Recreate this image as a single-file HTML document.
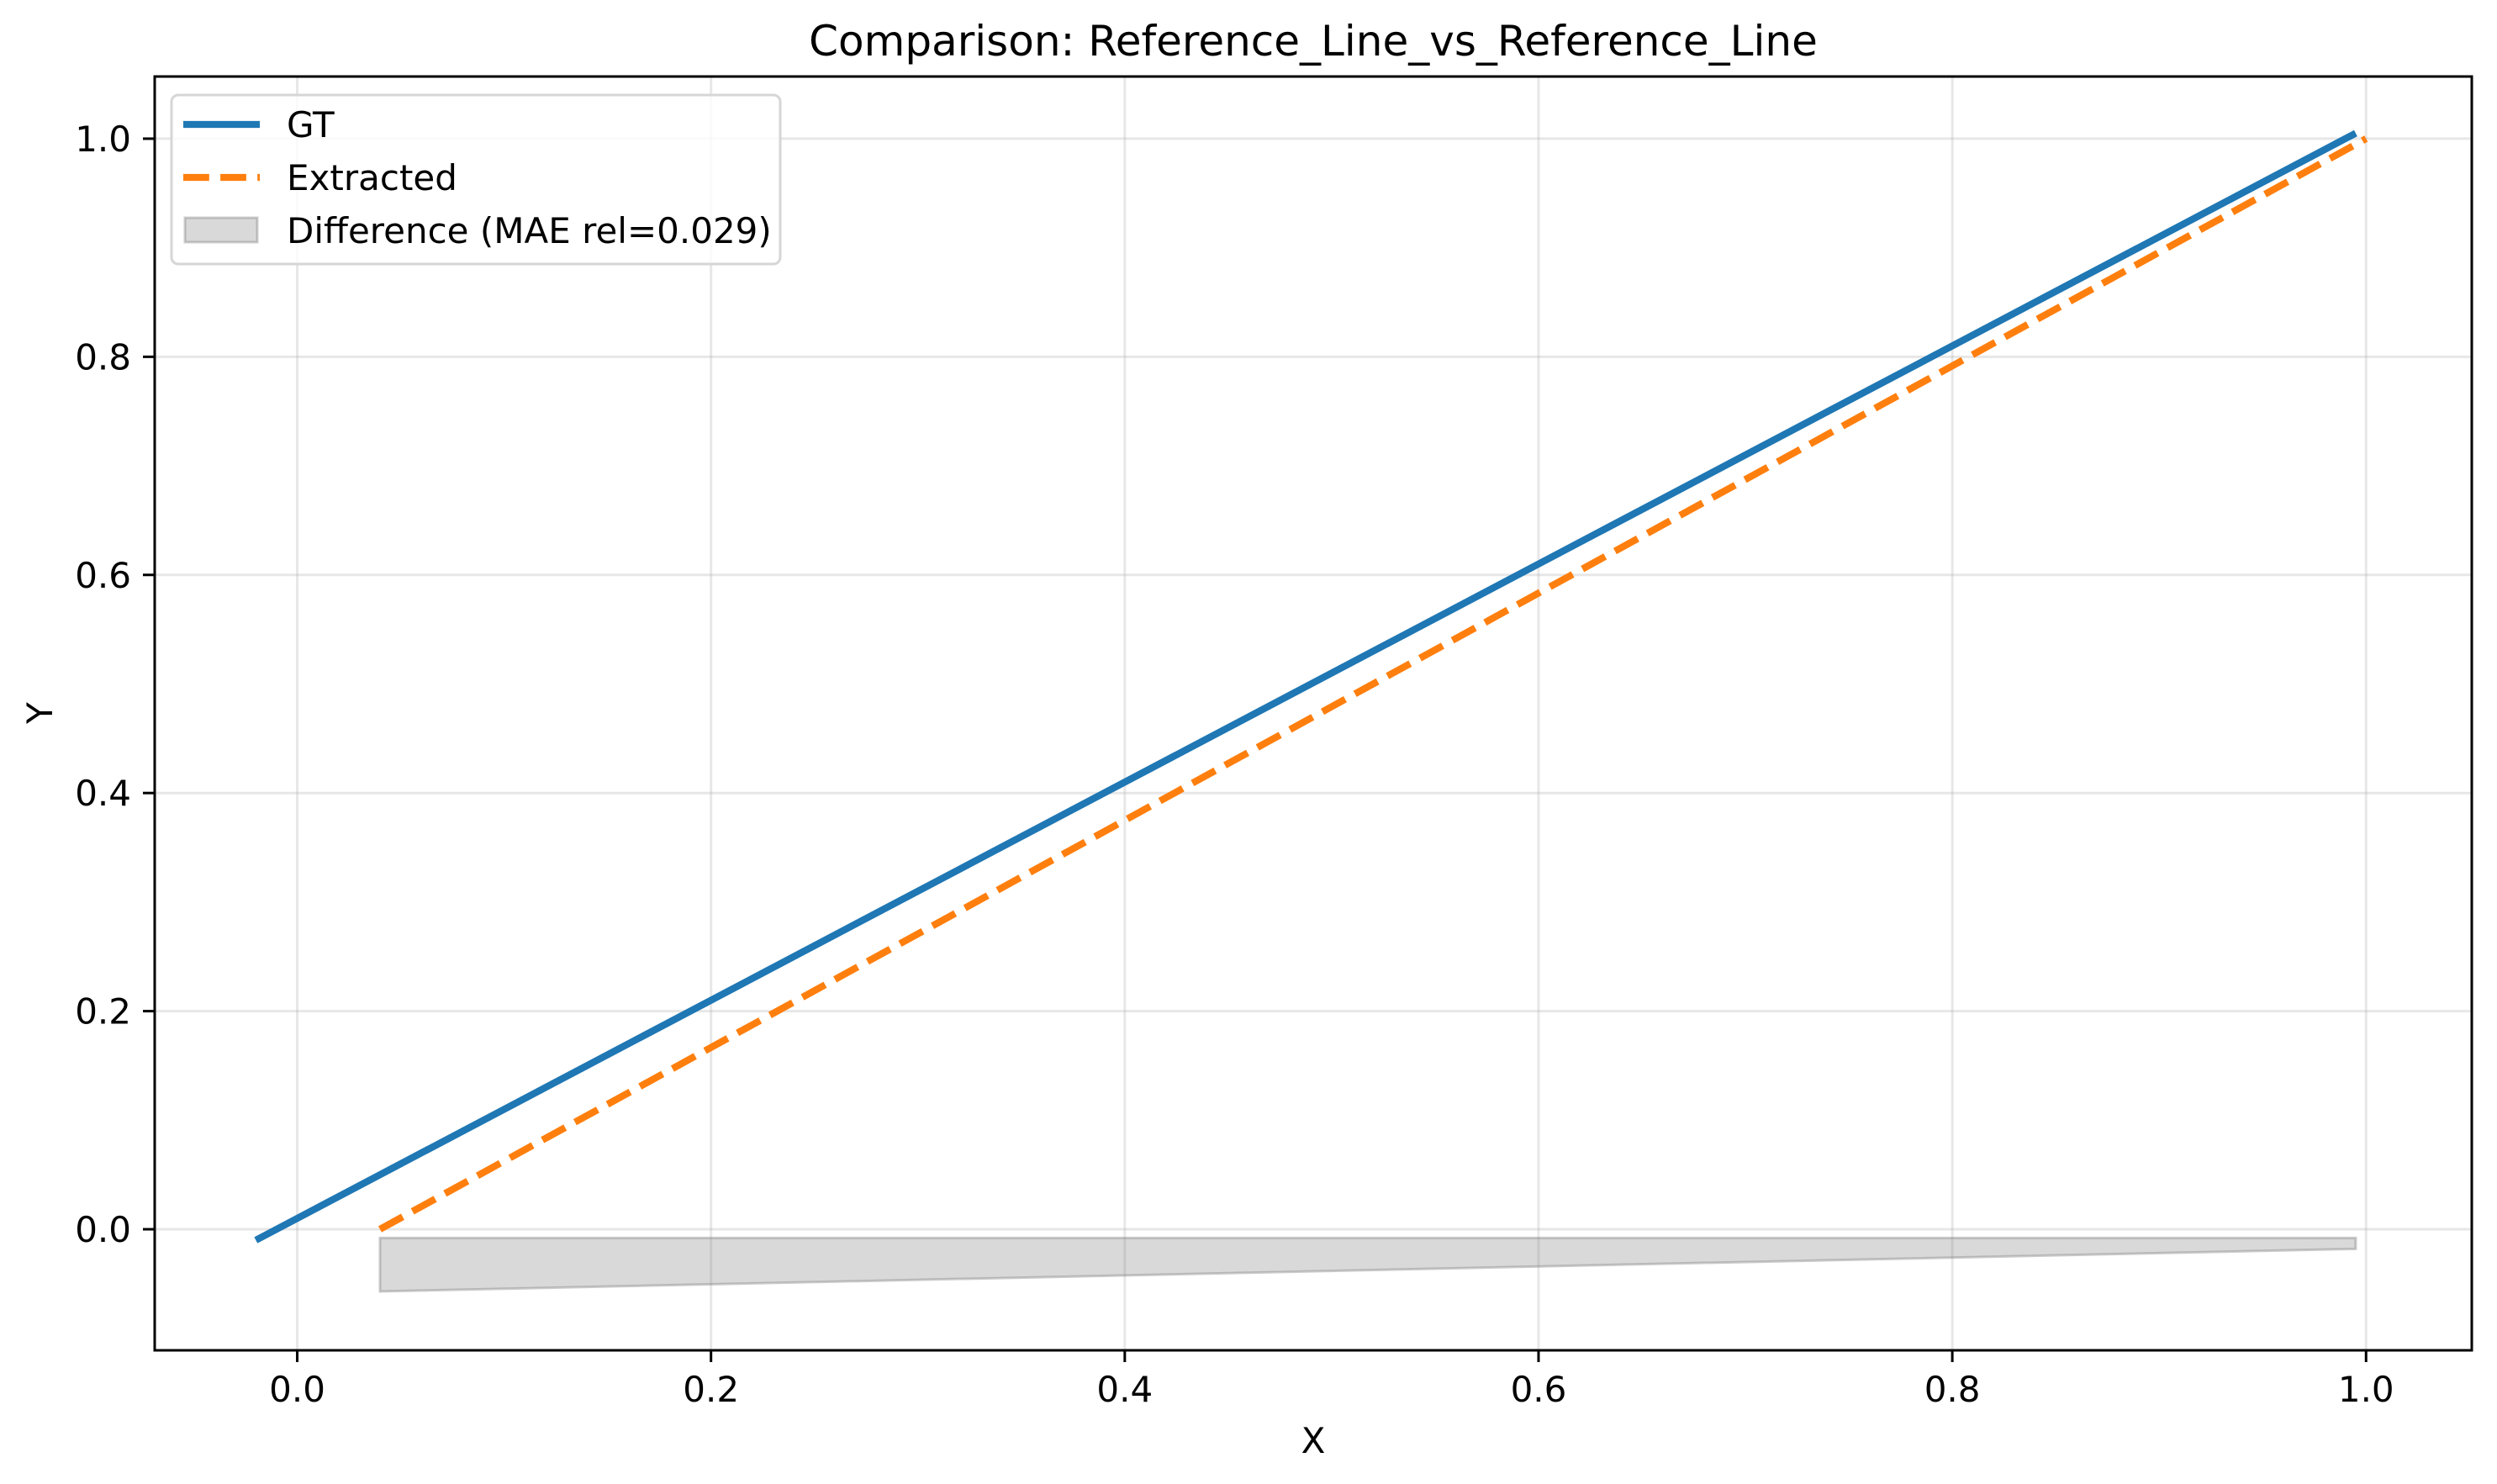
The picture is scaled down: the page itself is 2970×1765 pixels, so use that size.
<!DOCTYPE html>
<html><head><meta charset="utf-8"><style>
html,body{margin:0;padding:0;background:#fff;}
svg{display:block;font-family:"DejaVu Sans","Liberation Sans",sans-serif;}
</style></head><body>
<svg id="chart" width="2970" height="1765" viewBox="0 0 2970 1765" xmlns="http://www.w3.org/2000/svg">
<rect width="2970" height="1765" fill="#fff"/>
<text x="1562" y="66" font-size="50" text-anchor="middle">Comparison: Reference_Line_vs_Reference_Line</text>
<g id="grid"></g>
<g id="marks"></g>
<rect x="184" y="91" width="2756" height="1515" fill="none" stroke="#000" stroke-width="3"/>
<g id="ticks"></g>
<text x="1562" y="1728" font-size="42" text-anchor="middle">X</text>
<text x="62" y="848" font-size="42" text-anchor="middle" transform="rotate(-90 62 848)">Y</text>
<g>
<rect x="204" y="113" width="724" height="201" rx="8" fill="#fff" fill-opacity="0.8" stroke="#d6d6d6" stroke-width="3"/>
<line x1="218" y1="148" x2="309" y2="148" stroke="#1f77b4" stroke-width="8.3"/>
<text x="341" y="163" font-size="42">GT</text>
<line x1="218" y1="211" x2="309" y2="211" stroke="#ff7f0e" stroke-width="8.3" stroke-dasharray="30.8 13.3"/>
<text x="341" y="226" font-size="42">Extracted</text>
<rect x="220" y="259" width="86" height="29" fill="#808080" fill-opacity="0.3" stroke="#808080" stroke-opacity="0.4" stroke-width="3"/>
<text x="341" y="289" font-size="42">Difference (MAE rel=0.029)</text>
</g>
</svg>
<script>
const xTicks = [0.0, 0.2, 0.4, 0.6, 0.8, 1.0];
const xTickLabels = ["0.0","0.2","0.4","0.6","0.8","1.0"];
const yTicks = [0.0, 0.2, 0.4, 0.6, 0.8, 1.0];
const yTickLabels = ["0.0","0.2","0.4","0.6","0.8","1.0"];
const gtX = [-0.02, 0.995];
const gtY = [-0.01, 1.005];
const extX = [0.04, 1.0];
const extY = [0.0, 1.0];
const diffX = [0.04, 0.995];
const diffUpper = [-0.008, -0.008];
const diffLower = [-0.057, -0.018];

const NS = "http://www.w3.org/2000/svg";
const L = 184, R = 2940, T = 91, B = 1606;
const xMin = -0.0689, xMax = 1.0511, yMin = -0.111, yMax = 1.057;
function sx(v){ return L + (v - xMin) / (xMax - xMin) * (R - L); }
function sy(v){ return B - (v - yMin) / (yMax - yMin) * (B - T); }
function mk(tag, attrs, parent){ const e = document.createElementNS(NS, tag); for (const k in attrs) e.setAttribute(k, attrs[k]); parent.appendChild(e); return e; }

const grid = document.getElementById('grid');
const ticks = document.getElementById('ticks');
const marks = document.getElementById('marks');

xTicks.forEach((v, i) => {
  const g = mk('line', {x1: sx(v), x2: sx(v), y1: T, y2: B, stroke: '#b0b0b0', 'stroke-opacity': 0.3, 'stroke-width': 3}, grid);
  
  
  const t = mk('line', {x1: sx(v), x2: sx(v), y1: B, y2: B + 14, stroke: '#000', 'stroke-width': 3}, ticks);
  
  
  const lb = mk('text', {x: sx(v), y: B + 61, 'font-size': 42, 'text-anchor': 'middle'}, ticks);
  lb.textContent = xTickLabels[i];
  
  
});
yTicks.forEach((v, i) => {
  const g = mk('line', {x1: L, x2: R, y1: sy(v), y2: sy(v), stroke: '#b0b0b0', 'stroke-opacity': 0.3, 'stroke-width': 3}, grid);
  
  
  const t = mk('line', {x1: L - 14, x2: L, y1: sy(v), y2: sy(v), stroke: '#000', 'stroke-width': 3}, ticks);
  
  
  const lb = mk('text', {x: L - 28, y: sy(v) + 15, 'font-size': 42, 'text-anchor': 'end'}, ticks);
  lb.textContent = yTickLabels[i];
  
  
});

let pts = [];
for (let i = 0; i < diffX.length; i++) pts.push(sx(diffX[i]) + ',' + sy(diffUpper[i]));
for (let i = diffX.length - 1; i >= 0; i--) pts.push(sx(diffX[i]) + ',' + sy(diffLower[i]));
const band = mk('polygon', {points: pts.join(' '), fill: '#808080', 'fill-opacity': 0.3, stroke: '#808080', 'stroke-opacity': 0.4, 'stroke-width': 3}, marks);



const gt = mk('polyline', {points: gtX.map((x, i) => sx(x) + ',' + sy(gtY[i])).join(' '), fill: 'none', stroke: '#1f77b4', 'stroke-width': 8.3}, marks);



const ex = mk('polyline', {points: extX.map((x, i) => sx(x) + ',' + sy(extY[i])).join(' '), fill: 'none', stroke: '#ff7f0e', 'stroke-width': 8.3, 'stroke-dasharray': '30.8 13.3'}, marks);


</script>
</body></html>
